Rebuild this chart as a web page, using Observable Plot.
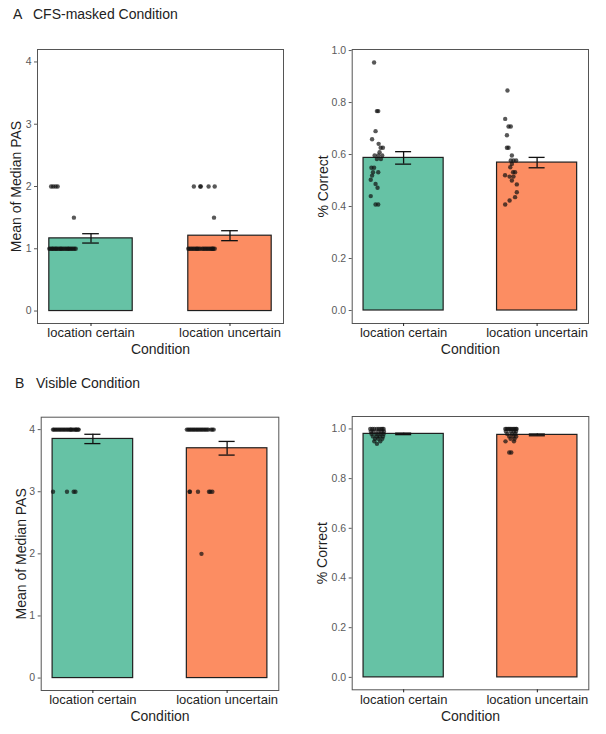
<!DOCTYPE html>
<html>
<head>
<meta charset="utf-8">
<script src="https://cdn.jsdelivr.net/npm/d3@7"></script>
<script src="https://cdn.jsdelivr.net/npm/@observablehq/plot@0.6"></script>
<style>
  html, body { margin: 0; padding: 0; background: #fff; }
  #wrap { position: relative; width: 606px; height: 734px; font-family: "Liberation Sans", Arial, sans-serif; }
  .ttl { position: absolute; font-size: 14px; line-height: 14px; color: #222; white-space: nowrap; }
</style>
</head>
<body>
<div id="wrap">
  <div class="ttl" style="left:13px;top:7px;">A</div>
  <div class="ttl" style="left:33px;top:7px;">CFS-masked Condition</div>
  <div class="ttl" style="left:15px;top:376px;">B</div>
  <div class="ttl" style="left:36px;top:376px;">Visible Condition</div>
</div>
<script>
// ---------- data ----------
const conditions = ["location certain", "location uncertain"];
const barColors = ["#66C2A5", "#FC8D62"];

// Panel A left: Mean of Median PAS (CFS-masked)
const pasCfsMean = [1.167, 1.21];
const pasCfsSe = [0.075, 0.08];
const pasCfsCertain = [2, 2, 2, 2, 1.5, 1, 1, 1, 1, 1, 1, 1, 1, 1, 1, 1, 1, 1, 1, 1, 1, 1, 1, 1, 1, 1, 1];
const pasCfsCertainJit = [-0.287, -0.272, -0.255, -0.24, -0.123, -0.30, -0.29, -0.28, -0.275, -0.265, -0.255, -0.25, -0.24, -0.23, -0.22, -0.215, -0.205, -0.195, -0.185, -0.175, -0.165, -0.16, -0.15, -0.14, -0.13, -0.12, -0.11];
const pasCfsUncertain = [2, 2, 2, 2, 2, 1.5, 1, 1, 1, 1, 1, 1, 1, 1, 1, 1, 1, 1, 1, 1, 1, 1, 1, 1, 1, 1, 1];
const pasCfsUncertainJit = [-0.26, -0.214, -0.21, -0.154, -0.11, -0.115, -0.30, -0.29, -0.28, -0.27, -0.26, -0.25, -0.24, -0.235, -0.225, -0.215, -0.2, -0.19, -0.18, -0.17, -0.16, -0.15, -0.14, -0.13, -0.125, -0.12, -0.11];

// Panel A right: % Correct (CFS-masked)
const accCfsMean = [0.587, 0.569];
const accCfsSe = [0.024, 0.02];
const accCfsCertain = [0.954, 0.767, 0.767, 0.69, 0.659, 0.641, 0.626, 0.626, 0.609, 0.596, 0.596, 0.596, 0.583, 0.583, 0.549, 0.549, 0.532, 0.532, 0.519, 0.503, 0.487, 0.472, 0.44, 0.408, 0.408];
const accCfsCertainJit = [-0.221, -0.2, -0.19, -0.21, -0.236, -0.187, -0.172, -0.155, -0.18, -0.217, -0.19, -0.16, -0.2, -0.17, -0.241, -0.221, -0.229, -0.19, -0.236, -0.246, -0.21, -0.195, -0.246, -0.21, -0.19];
const accCfsUncertain = [0.846, 0.737, 0.708, 0.708, 0.674, 0.626, 0.626, 0.596, 0.577, 0.577, 0.577, 0.564, 0.551, 0.532, 0.532, 0.52, 0.515, 0.515, 0.5, 0.485, 0.455, 0.436, 0.423, 0.408];
const accCfsUncertainJit = [-0.222, -0.239, -0.214, -0.197, -0.226, -0.226, -0.214, -0.189, -0.197, -0.177, -0.157, -0.189, -0.201, -0.18, -0.165, -0.24, -0.206, -0.177, -0.189, -0.152, -0.152, -0.165, -0.206, -0.239];

// Panel B left: Mean of Median PAS (Visible)
const pasVisMean = [3.85, 3.70];
const pasVisSe = [0.075, 0.11];
const pasVisCertain = [4, 4, 4, 4, 4, 4, 4, 4, 4, 4, 4, 4, 4, 4, 4, 4, 4, 4, 4, 4, 4, 4, 4, 3, 3, 3, 3];
const pasVisCertainJit = [-0.297, -0.29, -0.28, -0.27, -0.26, -0.25, -0.24, -0.23, -0.22, -0.21, -0.2, -0.19, -0.18, -0.17, -0.165, -0.16, -0.15, -0.14, -0.13, -0.125, -0.12, -0.11, -0.106, -0.297, -0.193, -0.143, -0.13];
const pasVisUncertain = [4, 4, 4, 4, 4, 4, 4, 4, 4, 4, 4, 4, 4, 4, 4, 4, 4, 4, 4, 4, 3, 3, 3, 3, 3, 3, 2];
const pasVisUncertainJit = [-0.30, -0.29, -0.28, -0.27, -0.26, -0.25, -0.24, -0.23, -0.22, -0.21, -0.2, -0.19, -0.18, -0.17, -0.16, -0.15, -0.14, -0.12, -0.11, -0.1, -0.277, -0.28, -0.217, -0.135, -0.125, -0.11, -0.191];

// Panel B right: % Correct (Visible)
const accVisMean = [0.98, 0.976];
const accVisSe = [0.003, 0.0035];
const accVisCertain = [1, 1, 1, 1, 1, 1, 1, 1, 0.99, 0.99, 0.99, 0.99, 0.99, 0.98, 0.98, 0.98, 0.98, 0.97, 0.97, 0.97, 0.97, 0.96, 0.96, 0.96, 0.95, 0.95, 0.94];
const accVisCertainJit = [-0.25, -0.235, -0.22, -0.2, -0.185, -0.17, -0.16, -0.15, -0.245, -0.225, -0.19, -0.165, -0.148, -0.24, -0.205, -0.175, -0.15, -0.23, -0.2, -0.18, -0.155, -0.215, -0.19, -0.16, -0.22, -0.175, -0.2];
const accVisUncertain = [1, 1, 1, 1, 1, 1, 1, 1, 1, 1, 0.99, 0.99, 0.99, 0.99, 0.98, 0.98, 0.98, 0.97, 0.97, 0.97, 0.96, 0.96, 0.95, 0.95, 0.905, 0.905];
const accVisUncertainJit = [-0.24, -0.23, -0.22, -0.21, -0.2, -0.19, -0.18, -0.17, -0.16, -0.155, -0.235, -0.2, -0.175, -0.16, -0.225, -0.19, -0.165, -0.21, -0.18, -0.158, -0.17, -0.2, -0.238, -0.175, -0.21, -0.195];

const pasTicks = [0, 1, 2, 3, 4];
const accTicks = [0, 0.2, 0.4, 0.6, 0.8, 1.0];

// ---------- drawing ----------
function panel(cfg) {
  const bars = conditions.map((c, k) => ({i: k + 1, cond: c, mean: cfg.means[k], se: cfg.ses[k]}));
  const pts = [];
  cfg.points.forEach((vals, k) => {
    vals.forEach((v, j) => pts.push({x: k + 1 + cfg.jitter[k][j], v}));
  });
  const svg = Plot.plot({
    width: cfg.width, height: cfg.height,
    marginLeft: cfg.m[0], marginRight: cfg.m[1], marginTop: cfg.m[2], marginBottom: cfg.m[3],
    style: {fontFamily: '"Liberation Sans", Arial, sans-serif', background: "transparent", overflow: "visible"},
    x: {domain: [0.615, 2.385], axis: null},
    y: {domain: cfg.yDomain, axis: null},
    color: {domain: conditions, range: barColors},
    marks: [
      Plot.rect(bars, {x1: d => d.i - 0.3, x2: d => d.i + 0.3, y1: 0, y2: "mean", fill: "cond", stroke: "#1f1f1f", strokeWidth: 1.2}),
      Plot.dot(pts, {x: "x", y: "v", r: 2.2, fill: "#111", fillOpacity: 0.7}),
      Plot.ruleX(bars, {x: "i", y1: d => d.mean - d.se, y2: d => d.mean + d.se, stroke: "#111", strokeWidth: 1.3}),
      Plot.ruleY(bars, {y: d => d.mean + d.se, x1: d => d.i - 0.06, x2: d => d.i + 0.06, stroke: "#111", strokeWidth: 1.3}),
      Plot.ruleY(bars, {y: d => d.mean - d.se, x1: d => d.i - 0.06, x2: d => d.i + 0.06, stroke: "#111", strokeWidth: 1.3}),
      Plot.frame({stroke: "#555", strokeWidth: 1}),
      Plot.axisY({ticks: cfg.yTicks, tickFormat: cfg.yFormat, tickSize: 3, tickPadding: 3, fontSize: 10.5, color: "#5a5a5a", label: null}),
      Plot.axisX({ticks: [1, 2], tickFormat: d => conditions[d - 1], tickSize: 3, tickPadding: 1.5, fontSize: 13, color: "#1f1f1f", label: null}),
      Plot.text(["Condition"], {text: d => d, frameAnchor: "bottom", dy: cfg.xLabDy, lineAnchor: "bottom", fontSize: 14, fill: "#1f1f1f"}),
      Plot.text([cfg.yLabel], {text: d => d, frameAnchor: "left", textAnchor: "middle", dx: cfg.yLabDx, rotate: -90, lineAnchor: "bottom", fontSize: 14, fill: "#1f1f1f"})
    ]
  });
  svg.style.position = "absolute";
  svg.style.left = cfg.left + "px";
  svg.style.top = cfg.top + "px";
  document.getElementById("wrap").appendChild(svg);
}

panel({left: 0, top: 40, width: 300, height: 330, m: [37, 17, 9, 47],
  means: pasCfsMean, ses: pasCfsSe, points: [pasCfsCertain, pasCfsUncertain], jitter: [pasCfsCertainJit, pasCfsUncertainJit],
  yDomain: [-0.2, 4.2], yTicks: pasTicks, yFormat: d3.format("d"), yLabel: "Mean of Median PAS", yLabDx: -17, xLabDy: 30.3});

panel({left: 300, top: 40, width: 306, height: 330, m: [51.7, 18, 9, 47],
  means: accCfsMean, ses: accCfsSe, points: [accCfsCertain, accCfsUncertain], jitter: [accCfsCertainJit, accCfsUncertainJit],
  yDomain: [-0.05, 1.004], yTicks: accTicks, yFormat: d3.format(".1f"), yLabel: "% Correct", yLabDx: -24.7, xLabDy: 30.3});

panel({left: 0, top: 400, width: 300, height: 334, m: [40.7, 21.7, 16.7, 44],
  means: pasVisMean, ses: pasVisSe, points: [pasVisCertain, pasVisUncertain], jitter: [pasVisCertainJit, pasVisUncertainJit],
  yDomain: [-0.2, 4.2], yTicks: pasTicks, yFormat: d3.format("d"), yLabel: "Mean of Median PAS", yLabDx: -15.7, xLabDy: 30.7});

panel({left: 300, top: 400, width: 306, height: 334, m: [51.7, 17.7, 16, 44.7],
  means: accVisMean, ses: accVisSe, points: [accVisCertain, accVisUncertain], jitter: [accVisCertainJit, accVisUncertainJit],
  yDomain: [-0.05, 1.05], yTicks: accTicks, yFormat: d3.format(".1f"), yLabel: "% Correct", yLabDx: -25.7, xLabDy: 31});
</script>
</body>
</html>
